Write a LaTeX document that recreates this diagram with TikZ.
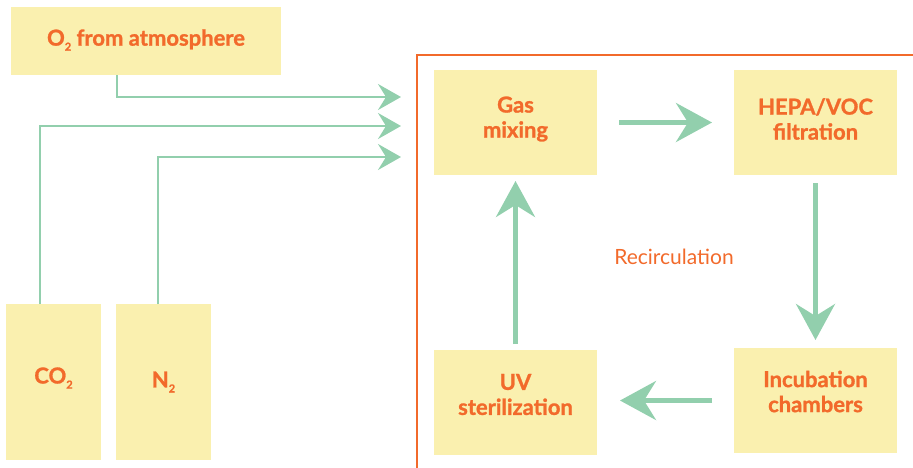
\documentclass[tikz,border=0pt]{standalone}
\usepackage{fontspec}
\setmainfont{Lato}[BoldFeatures={FakeBold=1.2}]
\usetikzlibrary{arrows.meta}
\definecolor{boxyellow}{HTML}{FAF0AF}
\definecolor{txtorange}{HTML}{F26A2B}
\definecolor{flowgreen}{HTML}{92CFAD}
\newcommand{\subtwo}{\raisebox{-0.45ex}{\fontsize{11}{11}\selectfont 2}}
\tikzset{
  box/.style={fill=boxyellow, draw=none, inner sep=0pt, outer sep=0pt},
  boxtext/.style={font=\bfseries\fontsize{22}{25}\selectfont, text=txtorange, align=center, inner sep=0pt},
  thinflow/.style={draw=flowgreen, line width=2pt, -{Stealth[length=23pt,width=26pt,inset=8pt]}},
  bigflow/.style={draw=flowgreen, line width=4.5pt, -{Stealth[length=36pt,width=39pt,inset=12pt]}},
  frame/.style={draw=txtorange, line width=2pt}
}
\begin{document}
\begin{tikzpicture}[x=1pt,y=-1pt]
\useasboundingbox (0,0) rectangle (913,467);
\clip (0,0) rectangle (913,467);
\draw[frame] (417,55) rectangle (925,480);
% boxes
\node[box, minimum width=270pt, minimum height=68pt] (o2) at (146,41) {};
\node[box, minimum width=95pt, minimum height=156pt] (co2) at (53.5,382) {};
\node[box, minimum width=95pt, minimum height=156pt] (n2) at (163.5,382) {};
\node[box, minimum width=163pt, minimum height=105pt] (gas) at (515.5,122.5) {};
\node[box, minimum width=163pt, minimum height=105pt] (hepa) at (815.5,122.5) {};
\node[box, minimum width=163pt, minimum height=105pt] (inc) at (815.5,400.5) {};
\node[box, minimum width=163pt, minimum height=105pt] (uv) at (515.5,402.5) {};
% texts
\node[boxtext] (o2t) at ([yshift=1pt]o2.center) {O\subtwo{} from atmosphere};
\node[boxtext] (co2t) at ([yshift=4pt]co2.center) {CO\subtwo};
\node[boxtext] (n2t) at (n2.center) {N\subtwo};
\node[boxtext] (gast) at ([yshift=3.5pt]gas.center) {Gas\\mixing};
\node[boxtext] (hepat) at ([yshift=3.5pt]hepa.center) {HEPA/VOC\\filtration};
\node[boxtext] (inct) at ([yshift=9pt]inc.center) {Incubation\\chambers};
\node[boxtext] (uvt) at ([yshift=8pt]uv.center) {UV\\sterilization};
\node[font=\fontsize{21}{24}\selectfont, text=txtorange, inner sep=0pt] (recirc) at (674,257) {Recirculation};
% inlet arrows
\coordinate (in1) at (401,97);
\coordinate (in2) at (401,126);
\coordinate (in3) at (401,157);
\draw[thinflow] ([xshift=106pt]o2.south west) |- (in1);
\draw[thinflow] ([xshift=34pt]co2.north west) |- (in2);
\draw[thinflow] ([xshift=42pt]n2.north west) |- (in3);
% loop arrows
\draw[bigflow, shorten <=22pt, shorten >=22pt] (gas.east) -- (hepa.west);
\draw[bigflow, shorten <=8pt, shorten >=8pt] (hepa.south) -- (inc.north);
\draw[bigflow, shorten <=22pt, shorten >=23pt] (inc.west) -- (inc.west -| uv.east);
\draw[bigflow, shorten <=6pt, shorten >=6pt] (uv.north) -- (gas.south);
\end{tikzpicture}
\end{document}
